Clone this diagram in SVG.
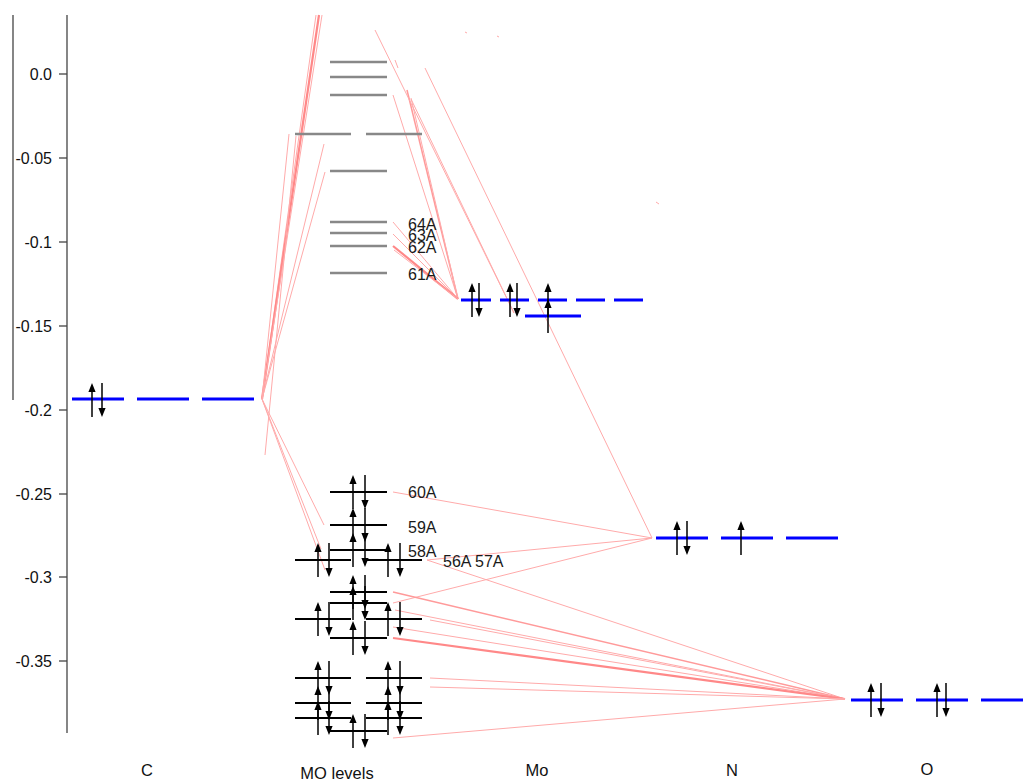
<svg xmlns="http://www.w3.org/2000/svg" xmlns:xlink="http://www.w3.org/1999/xlink" width="1023" height="782" viewBox="0 0 1023 782">
<style>
text{font-family:"Liberation Sans",Arial,sans-serif;fill:#111}
.ax{font-size:16px;text-anchor:end}
.bt{font-size:16.5px;text-anchor:middle}
.lb{font-size:16px;fill:#1a1a1a}
.pk{stroke:#ffaaaa;stroke-width:1;fill:none}
.pk2{stroke:#ff9a9a;stroke-width:1.5;fill:none}
.pk3{stroke:#ff8888;stroke-width:2.2;fill:none}
.gl{stroke:#888;stroke-width:2.5}
.bl{stroke:#000;stroke-width:2.2}
.bu{stroke:#0000ff;stroke-width:3}
.e line{stroke:#000;stroke-width:1.5}
.e polygon{fill:#000}
</style>
<defs>
<g id="up" class="e"><line x1="0" y1="-9" x2="0" y2="17"/><polygon points="0,-17 -3.6,-8 3.6,-8"/></g>
<g id="dn" class="e"><line x1="0" y1="-17" x2="0" y2="9"/><polygon points="0,17 -3.6,8 3.6,8"/></g>
</defs>
<rect width="1023" height="782" fill="#fff"/>

<g id="axis" stroke="#444" stroke-width="1.3">
<line x1="13" y1="15" x2="13" y2="400"/>
<line x1="67" y1="15" x2="67" y2="733"/>
<line x1="59" y1="74" x2="67" y2="74"/>
<line x1="59" y1="158" x2="67" y2="158"/>
<line x1="59" y1="242" x2="67" y2="242"/>
<line x1="59" y1="326" x2="67" y2="326"/>
<line x1="59" y1="410" x2="67" y2="410"/>
<line x1="59" y1="494" x2="67" y2="494"/>
<line x1="59" y1="577" x2="67" y2="577"/>
<line x1="59" y1="661" x2="67" y2="661"/>
</g>
<g id="axis-labels">
<text class="ax" x="52" y="80">0.0</text>
<text class="ax" x="52" y="164">-0.05</text>
<text class="ax" x="52" y="248">-0.1</text>
<text class="ax" x="52" y="332">-0.15</text>
<text class="ax" x="52" y="416">-0.2</text>
<text class="ax" x="52" y="500">-0.25</text>
<text class="ax" x="52" y="583">-0.3</text>
<text class="ax" x="52" y="667">-0.35</text>
<text class="bt" x="147" y="776">C</text>
<text class="bt" x="337" y="779">MO levels</text>
<text class="bt" x="537" y="776">Mo</text>
<text class="bt" x="732" y="776">N</text>
<text class="bt" x="927" y="775">O</text>
</g>

<g id="connectors">
<path class="pk" d="M316,15 L262,399"/>
<path class="pk3" d="M319,15 L262,399"/>
<path class="pk" d="M322,15 L262,399"/>
<path class="pk" d="M289,134 L262,399"/>
<path class="pk" d="M324,144 L262,399"/>
<path class="pk" d="M325,172 L262,399"/>
<path class="pk" d="M296,136 L265,455"/>
<path class="pk" d="M262,399 L324,525"/>
<path class="pk" d="M262,399 L321,549"/>
<path class="pk" d="M262,399 L325,570"/>
<path class="pk" d="M393,95 L458,299"/>
<path class="pk2" d="M407,90 L458,299"/>
<path class="pk" d="M411,98 L458,299"/>
<path class="pk" d="M393,222 L458,299"/>
<path class="pk" d="M393,234 L458,299"/>
<path class="pk3" d="M393,246 L458,299"/>
<path class="pk" d="M394,250 L458,299"/>
<path class="pk" d="M375,30 L514,313"/>
<path class="pk" d="M411,99 L514,313"/>
<path class="pk" d="M425,68 L652,538"/>
<path class="pk" d="M393,492 L652,538"/>
<path class="pk" d="M427,560 L652,538"/>
<path class="pk" d="M393,603 L652,538"/>
<path class="pk" d="M427,560 L845,699"/>
<path class="pk2" d="M393,592 L845,699"/>
<path class="pk" d="M395,610 L845,699"/>
<path class="pk" d="M430,620 L845,699"/>
<path class="pk" d="M393,627 L845,699"/>
<path class="pk3" d="M393,638 L845,699"/>
<path class="pk" d="M430,678 L845,699"/>
<path class="pk" d="M430,687 L845,699"/>
<path class="pk" d="M393,738 L845,699"/>
<path class="pk" d="M395,60 L398,68 M465,32 L467,33 M497,36 L499,37 M656,202 L659,204"/>
</g>

<g id="atom-C">
<line class="bu" x1="72" y1="399" x2="124" y2="399"/>
<line class="bu" x1="137" y1="399" x2="189" y2="399"/>
<line class="bu" x1="202" y1="399" x2="254" y2="399"/>
<use xlink:href="#up" x="92" y="400"/><use xlink:href="#dn" x="102" y="400"/>
</g>

<g id="mo-virtual">
<g id="mo-a" class="gl"><line x1="330" y1="62" x2="387" y2="62"/></g>
<g id="mo-b" class="gl"><line x1="330" y1="77" x2="387" y2="77"/></g>
<g id="mo-c" class="gl"><line x1="330" y1="95" x2="387" y2="95"/></g>
<g id="mo-d" class="gl"><line x1="295" y1="134" x2="351" y2="134"/><line x1="366" y1="134" x2="422" y2="134"/></g>
<g id="mo-e" class="gl"><line x1="330" y1="171" x2="387" y2="171"/></g>
<g id="mo-64A"><line class="gl" x1="330" y1="222" x2="387" y2="222"/><text class="lb" x="408" y="230">64A</text></g>
<g id="mo-63A"><line class="gl" x1="330" y1="233" x2="387" y2="233"/><text class="lb" x="408" y="241">63A</text></g>
<g id="mo-62A"><line class="gl" x1="330" y1="246" x2="387" y2="246"/><text class="lb" x="408" y="253">62A</text></g>
<g id="mo-61A"><line class="gl" x1="330" y1="273" x2="387" y2="273"/><text class="lb" x="408" y="280">61A</text></g>
</g>

<g id="mo-occupied">
<g id="mo-60A"><line class="bl" x1="330" y1="492" x2="387" y2="492"/><use xlink:href="#up" x="353" y="492"/><use xlink:href="#dn" x="365" y="492"/><text class="lb" x="408" y="498">60A</text></g>
<g id="mo-59A"><line class="bl" x1="330" y1="525" x2="387" y2="525"/><use xlink:href="#up" x="353" y="525"/><use xlink:href="#dn" x="365" y="525"/><text class="lb" x="408" y="533">59A</text></g>
<g id="mo-58A"><line class="bl" x1="330" y1="550" x2="387" y2="550"/><use xlink:href="#up" x="353" y="550"/><use xlink:href="#dn" x="365" y="550"/><text class="lb" x="408" y="557">58A</text></g>
<g id="mo-56A-57A"><line class="bl" x1="295" y1="560" x2="351" y2="560"/><line class="bl" x1="366" y1="560" x2="422" y2="560"/><use xlink:href="#up" x="318" y="560"/><use xlink:href="#dn" x="329" y="560"/><use xlink:href="#up" x="388" y="560"/><use xlink:href="#dn" x="400" y="560"/><text class="lb" x="443" y="567">56A 57A</text></g>
<g id="mo-55A"><line class="bl" x1="330" y1="592" x2="387" y2="592"/><use xlink:href="#up" x="353" y="592"/><use xlink:href="#dn" x="365" y="592"/></g>
<g id="mo-54A"><line class="bl" x1="330" y1="603" x2="387" y2="603"/><use xlink:href="#up" x="353" y="603"/><use xlink:href="#dn" x="365" y="603"/></g>
<g id="mo-52A-53A"><line class="bl" x1="295" y1="619" x2="351" y2="619"/><line class="bl" x1="366" y1="619" x2="422" y2="619"/><use xlink:href="#up" x="318" y="619"/><use xlink:href="#dn" x="329" y="619"/><use xlink:href="#up" x="388" y="619"/><use xlink:href="#dn" x="400" y="619"/></g>
<g id="mo-51A"><line class="bl" x1="330" y1="638" x2="387" y2="638"/><use xlink:href="#up" x="353" y="638"/><use xlink:href="#dn" x="365" y="638"/></g>
<g id="mo-49A-50A"><line class="bl" x1="295" y1="678" x2="351" y2="678"/><line class="bl" x1="366" y1="678" x2="422" y2="678"/><use xlink:href="#up" x="318" y="678"/><use xlink:href="#dn" x="329" y="678"/><use xlink:href="#up" x="388" y="678"/><use xlink:href="#dn" x="400" y="678"/></g>
<g id="mo-47A-48A"><line class="bl" x1="295" y1="703" x2="351" y2="703"/><line class="bl" x1="366" y1="703" x2="422" y2="703"/><use xlink:href="#up" x="318" y="703"/><use xlink:href="#dn" x="329" y="703"/><use xlink:href="#up" x="388" y="703"/><use xlink:href="#dn" x="400" y="703"/></g>
<g id="mo-45A-46A"><line class="bl" x1="295" y1="718" x2="351" y2="718"/><line class="bl" x1="366" y1="718" x2="422" y2="718"/><use xlink:href="#up" x="318" y="718"/><use xlink:href="#dn" x="329" y="718"/><use xlink:href="#up" x="388" y="718"/><use xlink:href="#dn" x="400" y="718"/></g>
<g id="mo-44A"><line class="bl" x1="330" y1="731" x2="387" y2="731"/><use xlink:href="#up" x="353" y="731"/><use xlink:href="#dn" x="365" y="731"/></g>
</g>

<g id="atom-Mo">
<line class="bu" x1="461" y1="300" x2="491" y2="300"/>
<line class="bu" x1="500" y1="300" x2="529" y2="300"/>
<line class="bu" x1="538" y1="300" x2="567" y2="300"/>
<line class="bu" x1="576" y1="300" x2="605" y2="300"/>
<line class="bu" x1="614" y1="300" x2="643" y2="300"/>
<line class="bu" x1="525" y1="316" x2="581" y2="316"/>
<use xlink:href="#up" x="472" y="300"/><use xlink:href="#dn" x="479" y="300"/>
<use xlink:href="#up" x="510" y="300"/><use xlink:href="#dn" x="517" y="300"/>
<use xlink:href="#up" x="548" y="300"/>
<use xlink:href="#up" x="548" y="316"/>
</g>

<g id="atom-N">
<line class="bu" x1="656" y1="538" x2="708" y2="538"/>
<line class="bu" x1="721" y1="538" x2="773" y2="538"/>
<line class="bu" x1="786" y1="538" x2="838" y2="538"/>
<use xlink:href="#up" x="677" y="538"/><use xlink:href="#dn" x="687" y="538"/>
<use xlink:href="#up" x="741" y="538"/>
</g>

<g id="atom-O">
<line class="bu" x1="851" y1="700" x2="903" y2="700"/>
<line class="bu" x1="916" y1="700" x2="968" y2="700"/>
<line class="bu" x1="981" y1="700" x2="1023" y2="700"/>
<use xlink:href="#up" x="871" y="700"/><use xlink:href="#dn" x="881" y="700"/>
<use xlink:href="#up" x="937" y="700"/><use xlink:href="#dn" x="946" y="700"/>
</g>
</svg>
